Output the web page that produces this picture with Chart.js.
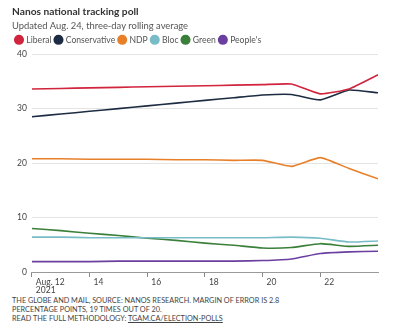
<!DOCTYPE html>
<html>
<head>
<meta charset="utf-8">
<script src="https://cdn.jsdelivr.net/npm/chart.js@4"></script>
<style>
  html, body { margin: 0; padding: 0; background: #fff; }
  #wrap { width: 400px; height: 296px; position: relative; }
  .note {
    font-family: Lato, "Noto Sans", sans-serif;
    font-size: 7.3px;
    line-height: 9px;
    color: #444;
    margin: 0 0 0 12px;
  }
  .note a { color: #444; text-decoration: underline; }
</style>
</head>
<body>
<div id="wrap"><canvas id="poll"></canvas></div>
<div class="note">
  THE GLOBE AND MAIL, SOURCE: NANOS RESEARCH. MARGIN OF ERROR IS 2.8<br>
  PERCENTAGE POINTS, 19 TIMES OUT OF 20.<br>
  READ THE FULL METHODOLOGY: <a>TGAM.CA/ELECTION-POLLS</a>
</div>
<script>
// days of August 2021
var days = [12, 13, 14, 15, 16, 17, 18, 19, 20, 21, 22, 23, 24];

var liberal      = [33.6, 33.7, 33.8, 33.9, 34.0, 34.1, 34.2, 34.3, 34.4, 34.5, 32.7, 33.6, 36.2];
var conservative = [28.5, 29.0, 29.5, 30.0, 30.5, 31.0, 31.5, 32.0, 32.5, 32.6, 31.6, 33.4, 32.9];
var ndp          = [20.8, 20.8, 20.7, 20.7, 20.7, 20.6, 20.6, 20.5, 20.5, 19.4, 21.0, 19.0, 17.1];
var bloc         = [6.4, 6.4, 6.3, 6.3, 6.3, 6.3, 6.3, 6.3, 6.3, 6.4, 6.2, 5.5, 5.7];
var green        = [8.0, 7.6, 7.1, 6.7, 6.2, 5.8, 5.3, 4.9, 4.4, 4.5, 5.2, 4.7, 4.9];
var peoples      = [1.9, 1.9, 1.9, 2.0, 2.0, 2.0, 2.0, 2.0, 2.1, 2.4, 3.4, 3.7, 3.8];

var xTicks = [12, 14, 16, 18, 20, 22];
var yTicks = [0, 10, 20, 30, 40];

function points(values) {
  return values.map(function (v, i) { return { x: days[i], y: v }; });
}

function series(label, values, color) {
  return {
    label: label,
    data: points(values),
    borderColor: color,
    backgroundColor: color,
    borderWidth: 1.6,
    pointRadius: 0,
    tension: 0.15
  };
}

var font = "Lato, 'Noto Sans', sans-serif";

new Chart(document.getElementById("poll"), {
  type: "line",
  data: {
    datasets: [
      series("Liberal", liberal, "#d1243d"),
      series("Conservative", conservative, "#1d2c42"),
      series("NDP", ndp, "#e8802a"),
      series("Bloc", bloc, "#78bcc8"),
      series("Green", green, "#3a7f3a"),
      series("People's", peoples, "#6b3fa0")
    ]
  },
  options: {
    responsive: true,
    maintainAspectRatio: false,
    animation: false,
    layout: { padding: { left: 12, right: 22, top: 6, bottom: 0 } },
    plugins: {
      title: {
        display: true,
        text: "Nanos national tracking poll",
        align: "start",
        color: "#333",
        font: { family: font, size: 10.2, weight: "bold" },
        padding: { top: 0, bottom: 2 }
      },
      subtitle: {
        display: true,
        text: "Updated Aug. 24, three-day rolling average",
        align: "start",
        color: "#555",
        font: { family: font, size: 9.4 },
        padding: { top: 0, bottom: 0 }
      },
      legend: {
        align: "start",
        labels: {
          usePointStyle: true,
          pointStyle: "circle",
          boxWidth: 6,
          boxHeight: 6,
          padding: 4,
          color: "#555",
          font: { family: font, size: 8.6 }
        }
      },
      tooltip: { enabled: false }
    },
    scales: {
      x: {
        type: "linear",
        min: 12,
        max: 24,
        afterBuildTicks: function (axis) {
          axis.ticks = xTicks.map(function (v) { return { value: v }; });
        },
        border: { display: true, color: "#999", width: 1 },
        grid: {
          drawOnChartArea: false,
          drawTicks: true,
          tickLength: 5,
          color: "#888"
        },
        ticks: {
          align: "start",
          labelOffset: 4,
          padding: 1,
          maxRotation: 0,
          color: "#444",
          font: { family: font, size: 8.5, lineHeight: 1 },
          callback: function (v) {
            return v === 12 ? ["Aug. 12", "2021"] : [String(v), ""];
          }
        }
      },
      y: {
        min: 0,
        max: 40,
        afterBuildTicks: function (axis) {
          axis.ticks = yTicks.map(function (v) { return { value: v }; });
        },
        border: { display: false },
        grid: {
          drawTicks: false,
          color: function (ctx) { return ctx.tick && ctx.tick.value === 0 ? "rgba(0,0,0,0)" : "#e4e4e4"; }
        },
        ticks: {
          padding: 5,
          color: "#444",
          font: { family: font, size: 8.5 }
        }
      }
    }
  }
});
</script>
</body>
</html>
